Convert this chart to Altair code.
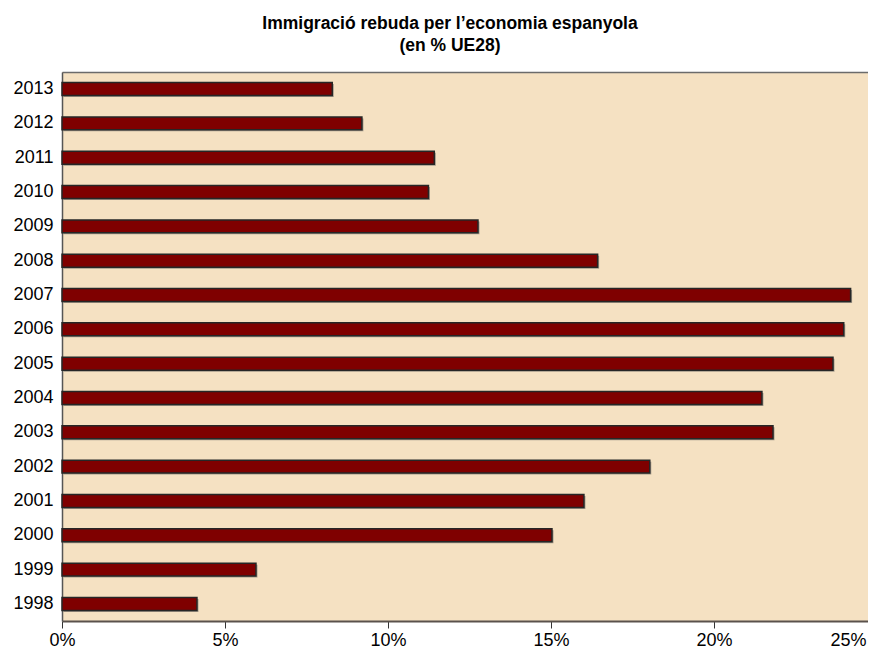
import altair as alt
import pandas as pd

years = ["1998", "1999", "2000", "2001", "2002", "2003", "2004", "2005",
         "2006", "2007", "2008", "2009", "2010", "2011", "2012", "2013"]
values = [4.14, 5.95, 15.03, 16.01, 18.03, 21.81, 21.47, 23.65,
          23.98, 24.19, 16.43, 12.76, 11.24, 11.42, 9.20, 8.29]
x_ticks = [0, 5, 10, 15, 20, 25]
title_lines = ["Immigració rebuda per l\u2019economia espanyola", "(en % UE28)"]

df = pd.DataFrame({"year": years, "value": values})

# the axis runs to 25% just past the visible right edge of the plot
x_scale = alt.Scale(domain=[0, 25], range=[0, 815], nice=False, zero=True)

y_enc = alt.Y(
    "year:O",
    sort="descending",
    title=None,
    scale=alt.Scale(paddingInner=0.623, paddingOuter=0.308),
    axis=alt.Axis(
        ticks=False,
        labelPadding=9,
        labelFontSize=18,
        labelColor="black",
        domainColor="#555555",
        domainWidth=1.5,
    ),
)
x_bottom = alt.X(
    "value:Q",
    title=None,
    scale=x_scale,
    axis=alt.Axis(
        values=x_ticks,
        labelExpr="datum.value + '%'",
        labelFontSize=18,
        labelColor="black",
        labelPadding=3,
        tickSize=7,
        tickColor="#333333",
        domainColor="#5a524c",
        domainWidth=2,
        grid=False,
        labelAlign={"condition": {"test": "datum.value == 25", "value": "right"}, "value": "center"},
        labelOffset={"condition": {"test": "datum.value == 25", "value": -11}, "value": 0},
    ),
)
x_top = alt.X(
    "value:Q",
    title=None,
    scale=x_scale,
    axis=alt.Axis(
        orient="top",
        labels=False,
        ticks=False,
        grid=False,
        domainColor="#6b6b6b",
        domainWidth=1.5,
    ),
)

shadow = alt.Chart(df).mark_bar(
    color="#8f877c", opacity=0.8, xOffset=1.5, yOffset=1.5
).encode(x=x_top, y=y_enc)

bars = alt.Chart(df).mark_bar(
    color="#7f0000", stroke="#262626", strokeWidth=1.5
).encode(x=x_bottom, y=y_enc)

chart = alt.layer(shadow, bars).resolve_axis(x="independent").properties(
    width=806,
    height=549,
    autosize="none",
    padding={"left": 54, "top": 64, "right": 0, "bottom": 27},
    title=alt.TitleParams(
        text=title_lines,
        fontSize=17.5,
        fontWeight="bold",
        color="black",
        lineHeight=22,
        anchor="middle",
        frame="group",
        dx=-15,
        offset=18,
    ),
).configure(
    font="Liberation Sans",
    background="white",
).configure_view(
    fill="#F5E1C2",
    strokeWidth=0,
)

chart.save("out.html", embed_options={"renderer": "svg", "actions": False})
